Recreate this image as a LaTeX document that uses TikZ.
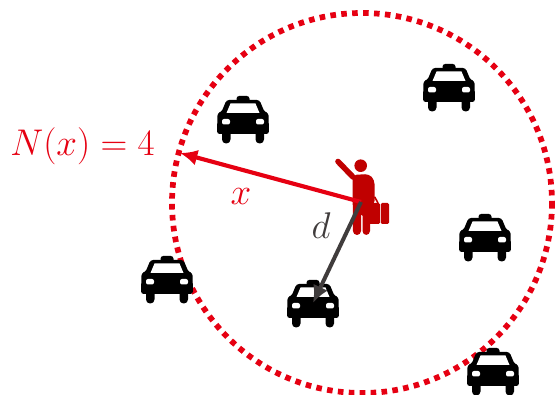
\documentclass[tikz,border=0pt]{standalone}
\usetikzlibrary{arrows.meta}
\definecolor{tred}{HTML}{E60012}
\definecolor{pred}{HTML}{C00000}
\definecolor{dgrey}{HTML}{403C3C}
\tikzset{
  every picture/.style={x=0.75pt,y=-0.75pt},
  lab/.style={inner sep=0pt,font=\Huge,scale=1.12},
  reachring/.style={draw=tred,line width=4.3pt,dash pattern=on 4.2pt off 4pt},
  pics/taxi/.style={code={
    \fill[black,rounded corners=2pt] (-6.5,-24) rectangle (6.5,-16);
    \fill[black,rounded corners=2pt] (-16.5,-20) -- (16.5,-20) -- (21.5,-8) -- (25.5,-7) -- (26,14) -- (-26,14) -- (-25.5,-7) -- (-21.5,-8) -- cycle;
    \fill[white] (-12.5,-16.5) -- (12.5,-16.5) -- (16.5,-7) -- (-16.5,-7) -- cycle;
    \fill[black,rounded corners=3pt] (-21,10) rectangle (-12.5,23.5);
    \fill[black,rounded corners=3pt] (12.5,10) rectangle (21,23.5);
    \fill[white,rounded corners=1.5pt] (-21,-1) rectangle (-13,4.5);
    \fill[white,rounded corners=1.5pt] (13,-1) rectangle (21,4.5);
  }}
}
\begin{document}
\begin{tikzpicture}
\useasboundingbox (0,0) rectangle (558,395);
\fill[white] (0,0) rectangle (558,395);
\draw[reachring] (362,203) circle[radius=190];
\pic at (243,120) {taxi};
\pic at (449,88) {taxi};
\pic at (485,238) {taxi};
\pic at (167,280) {taxi};
\pic at (313,304) {taxi};
\pic at (493,372) {taxi};
% person
\fill[pred] (360.7,165.7) circle[radius=6.3];
\draw[pred,line width=4.2pt,line cap=round] (338,161.5) -- (353,177);
\fill[pred,rounded corners=3pt] (352.5,175) -- (369,174) -- (374.5,180) -- (374.5,205) -- (370,205) -- (370,235) -- (362.5,235) -- (362.5,212) -- (361,212) -- (361,235) -- (353,235) -- cycle;
\draw[pred,line width=1.2pt] (368,203) -- (369,197.5) -- (375,197.5) -- (378,203);
\fill[pred,rounded corners=1pt] (365,203) rectangle (380,224);
\fill[pred,rounded corners=1pt] (380.8,203) rectangle (389,224);
\coordinate (origin) at (361,202);
\coordinate (edge) at (180,153);
\coordinate (taxitip) at (313,303);
\draw[tred,line width=3.1pt,-{Latex[length=13pt,width=12pt]}] (origin) -- (edge);
\draw[dgrey,line width=3pt,-{Latex[length=13pt,width=12pt]}] (origin) -- (taxitip);
\node[lab,text=tred] (nx) at (82.5,146) {$N(x)=4$};
\node[lab,text=tred] (xl) at (241,197) {$x$};
\node[lab,text=dgrey] (dl) at (321,226) {$d$};
\end{tikzpicture}
\end{document}
